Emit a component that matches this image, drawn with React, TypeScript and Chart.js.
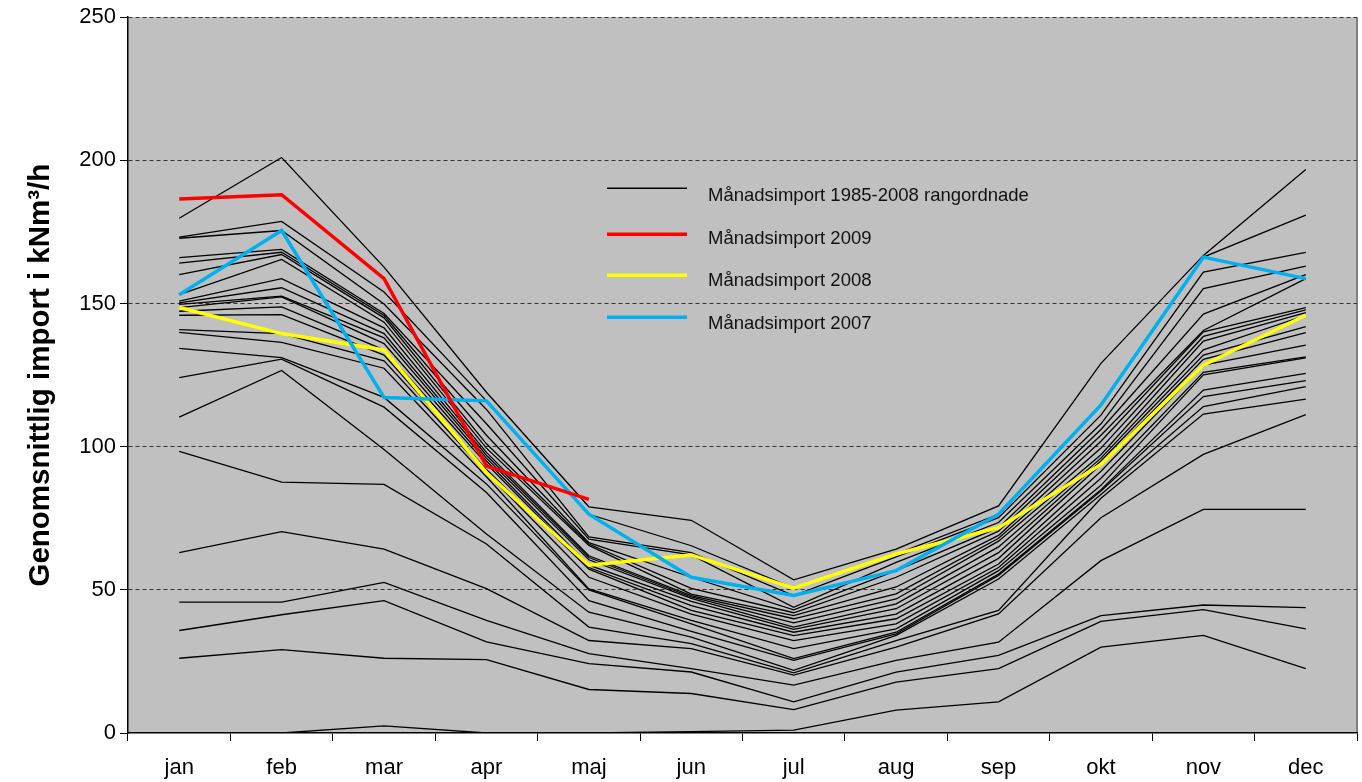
import React, { useEffect, useRef } from "react";
import { Chart, registerables } from "chart.js";

Chart.register(...registerables);

const FONT = "'Liberation Sans', Arial, Helvetica, sans-serif";

const months = ["jan", "feb", "mar", "apr", "maj", "jun", "jul", "aug", "sep", "okt", "nov", "dec"];
const yTickValues = [0, 50, 100, 150, 200, 250];

// Monthly import 1985-2008, ranked (descending) per month – 24 values each
const rankedJan = [179.8, 173.2, 172.8, 166.0, 164.1, 160.1, 153.1, 150.8, 150.2, 149.7, 148.6, 147.3, 145.9, 140.9, 139.9, 134.3, 124.1, 110.3, 98.4, 63.0, 45.7, 35.8, 26.1, 0];
const rankedFeb = [201.0, 178.7, 175.5, 168.9, 167.9, 167.1, 165.4, 158.7, 155.5, 152.6, 152.3, 148.8, 146.1, 139.5, 136.4, 131.1, 130.6, 126.6, 87.6, 70.3, 45.7, 41.3, 29.1, 0];
const rankedMar = [162.7, 154.0, 149.8, 146.5, 145.8, 145.0, 143.5, 141.5, 139.5, 138.0, 136.0, 133.8, 132.0, 130.0, 127.4, 117.2, 113.8, 99.0, 86.8, 64.2, 52.6, 46.2, 26.1, 2.5];
const rankedApr = [119.0, 116.0, 113.0, 108.0, 104.0, 101.0, 99.5, 98.0, 97.0, 96.0, 95.0, 94.0, 92.0, 90.9, 89.5, 87.0, 84.0, 69.5, 66.0, 50.4, 39.3, 31.8, 25.6, 0];
const rankedMaj = [79.0, 76.4, 68.5, 67.7, 66.5, 66.0, 65.5, 61.9, 61.3, 60.5, 58.6, 57.8, 57.2, 54.4, 50.3, 50.0, 46.2, 42.2, 37.0, 32.3, 27.7, 24.2, 15.2, 0];
const rankedJun = [74.3, 65.4, 63.0, 62.2, 54.4, 50.5, 48.5, 48.0, 47.5, 47.0, 46.0, 44.5, 42.8, 41.5, 39.3, 38.1, 35.5, 33.5, 31.2, 29.5, 22.5, 21.3, 13.8, 0.5];
const rankedJul = [53.5, 50.6, 48.0, 43.9, 43.0, 42.0, 41.0, 39.9, 38.5, 37.0, 36.2, 35.2, 34.0, 32.3, 29.5, 26.0, 25.4, 21.9, 21.0, 20.2, 16.7, 10.9, 8.2, 1.0];
const rankedAug = [64.2, 62.5, 61.5, 59.6, 56.7, 54.4, 51.0, 48.6, 46.8, 45.1, 43.4, 41.5, 39.9, 38.1, 36.4, 35.2, 34.6, 34.1, 32.3, 30.0, 25.4, 21.3, 17.8, 8.0];
const rankedSep = [79.3, 76.4, 75.2, 73.5, 71.7, 70.5, 69.0, 68.0, 67.0, 65.0, 63.0, 61.0, 59.0, 57.8, 56.7, 55.5, 55.0, 53.8, 42.8, 41.6, 31.7, 27.1, 22.5, 10.9];
const rankedOkt = [129.1, 114.6, 111.0, 108.0, 106.0, 104.0, 101.9, 99.5, 97.2, 96.0, 95.0, 93.8, 91.4, 89.0, 86.5, 85.0, 84.5, 83.3, 82.0, 75.2, 60.2, 41.0, 39.0, 30.0];
const rankedNov = [166.8, 166.2, 161.0, 155.2, 146.3, 140.6, 140.1, 138.5, 136.9, 133.8, 132.0, 130.5, 128.5, 126.0, 125.1, 119.8, 117.5, 114.0, 111.4, 97.3, 78.1, 44.7, 43.1, 34.1];
const rankedDec = [196.8, 180.9, 167.9, 163.1, 160.1, 158.7, 148.6, 147.8, 146.8, 145.9, 141.9, 139.8, 135.5, 131.4, 131.0, 125.6, 123.1, 121.0, 116.6, 111.2, 78.1, 43.8, 36.4, 22.5];

const import2009 = [186.5, 188.0, 158.7, 93.2, 81.6, null, null, null, null, null, null, null];
const import2008 = [148.6, 139.5, 133.8, 90.9, 58.6, 62.2, 50.6, 62.5, 71.7, 93.8, 128.5, 145.9];
const import2007 = [153.1, 175.5, 117.2, 116.0, 76.4, 54.4, 48.0, 56.7, 76.4, 114.6, 166.2, 158.7];

const legendLabels = [
  "Månadsimport 1985-2008 rangordnade",
  "Månadsimport 2009",
  "Månadsimport 2008",
  "Månadsimport 2007",
];
const yTitle = "Genomsnittlig import i kNm³/h";

const rankedByMonth = [rankedJan, rankedFeb, rankedMar, rankedApr, rankedMaj, rankedJun, rankedJul, rankedAug, rankedSep, rankedOkt, rankedNov, rankedDec];

const plotBg = {
  id: "plotBg",
  beforeDraw(chart: any) {
    const { ctx, chartArea: a } = chart;
    ctx.save();
    ctx.fillStyle = "#C0C0C0";
    ctx.fillRect(a.left, a.top, a.right - a.left, a.bottom - a.top);
    ctx.strokeStyle = "#808080";
    ctx.lineWidth = 2;
    ctx.beginPath();
    ctx.moveTo(a.right, a.top);
    ctx.lineTo(a.right, a.bottom);
    ctx.stroke();
    ctx.restore();
  },
};

const insideLegend = {
  id: "insideLegend",
  afterDatasetsDraw(chart: any) {
    const { ctx, chartArea: a } = chart;
    const items = [
      { color: "#000000", width: 1.5, dy: 8 },
      { color: "#FF0000", width: 3.5, dy: 5 },
      { color: "#FFFF00", width: 3.5, dy: 6 },
      { color: "#00B0F0", width: 3.5, dy: 7 },
    ];
    const rows = [171, 217, 258, 300];
    const x0 = a.left + 479;
    ctx.save();
    ctx.font = `18.5px ${FONT}`;
    ctx.textBaseline = "middle";
    ctx.fillStyle = "#111";
    items.forEach((it, i) => {
      const y = a.top + rows[i];
      ctx.strokeStyle = it.color;
      ctx.lineWidth = it.width;
      ctx.beginPath();
      ctx.moveTo(x0, y);
      ctx.lineTo(x0 + 80, y);
      ctx.stroke();
      ctx.fillText(legendLabels[i], x0 + 101, y + it.dy);
    });
    ctx.restore();
  },
};

export default function App() {
  const ref = useRef<HTMLCanvasElement>(null);

  useEffect(() => {
    document.body.style.margin = "0";
    const canvas = ref.current!;
    const blackSets = rankedJan.map((_, rank) => ({
      label: legendLabels[0],
      data: rankedByMonth.map((m) => m[rank]),
      borderColor: "#000000",
      borderWidth: 1.3,
      pointRadius: 0,
      tension: 0,
      order: 10,
    }));
    const chart = new Chart(canvas, {
      type: "line",
      data: {
        labels: months,
        datasets: [
          { label: legendLabels[1], data: import2009, borderColor: "#FF0000", borderWidth: 3.5, pointRadius: 0, order: 0, spanGaps: false },
          { label: legendLabels[3], data: import2007, borderColor: "#00B0F0", borderWidth: 3.5, pointRadius: 0, order: 1 },
          { label: legendLabels[2], data: import2008, borderColor: "#FFFF00", borderWidth: 3.5, pointRadius: 0, order: 2 },
          ...blackSets,
        ] as any,
      },
      options: {
        responsive: false,
        animation: false,
        layout: { padding: { top: 11, right: 5, left: 0, bottom: 0 } },
        plugins: { legend: { display: false }, tooltip: { enabled: false } },
        elements: { line: { borderJoinStyle: "miter" } },
        scales: {
          x: {
            type: "category",
            offset: true,
            afterFit: (s: any) => { s.height = 49; },
            grid: { drawOnChartArea: false, drawTicks: true, tickLength: 8, offset: true, tickColor: "#000", tickWidth: 1 },
            border: { display: true, color: "#000", width: 1.5 },
            ticks: { color: "#000", font: { family: FONT, size: 22 }, padding: 14, maxRotation: 0, autoSkip: false },
          },
          y: {
            min: 0,
            max: 250,
            afterFit: (s: any) => { s.width = 128; },
            afterBuildTicks: (s: any) => { s.ticks = yTickValues.map((v) => ({ value: v })); },
            grid: {
              color: (c: any) => (c.tick && c.tick.value === 0 ? "rgba(0,0,0,0)" : "#333"),
              lineWidth: 1,
              drawTicks: true,
              tickLength: 8,
              tickColor: "#000",
              tickWidth: 1,
              tickBorderDash: [],
            },
            border: { display: true, color: "#000", width: 1.5, dash: [4, 3] },
            ticks: { color: "#000", font: { family: FONT, size: 22 }, padding: 4 },
            title: {
              display: true,
              text: yTitle,
              color: "#000",
              font: { family: FONT, size: 29.5, weight: "bold" },
              padding: { top: 23, bottom: 0 },
            },
          },
        },
      },
      plugins: [plotBg, insideLegend],
    } as any);
    return () => chart.destroy();
  }, []);

  return (
    <div style={{ width: 1362, height: 782 }}>
      <canvas ref={ref} width={1362} height={782} style={{ display: "block" }} />
    </div>
  );
}
